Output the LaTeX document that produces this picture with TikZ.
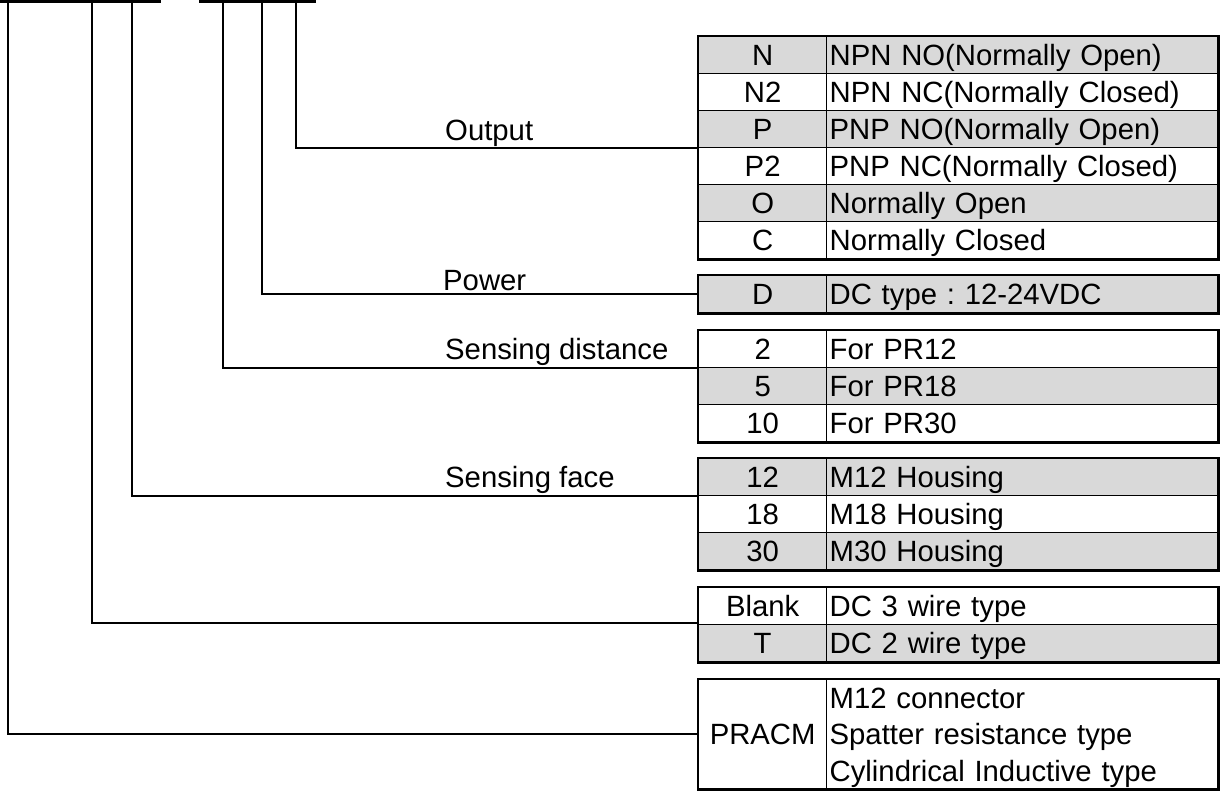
\documentclass[tikz,border=0pt]{standalone}
\usepackage{fontspec}
\setmainfont{Liberation Sans}
\frenchspacing
\definecolor{cellgray}{RGB}{217,217,217}
\tikzset{
  conn/.style={line width=1.8pt, line join=miter},
  topbar/.style={line width=2.7pt},
  frame/.style={line width=2.7pt},
  txt/.style={font=\fontsize{29.3}{36.5}\selectfont},
  codecell/.style={txt, draw=black, line width=1.3pt, minimum width=128pt, minimum height=37pt,
    inner sep=0pt, text height=21pt, text depth=0pt, anchor=north west},
  desccell/.style={txt, draw=black, line width=1.3pt, minimum width=391pt, minimum height=37pt,
    inner xsep=3pt, inner ysep=0pt, text width=385pt, align=left,
    text height=21pt, text depth=0pt, anchor=north west},
  shaded/.style={fill=cellgray},
  plain/.style={fill=white},
  lbl/.style={txt, anchor=base west, inner sep=0pt},
}
\newcommand\tabrow[5]{%
  \node[codecell,#5] (#1c) at (698,#2) {#3};
  \node[desccell,#5] (#1d) at (826,#2) {#4};}
\begin{document}
\begin{tikzpicture}[x=1pt,y=-1pt]
\useasboundingbox (0,0) rectangle (1220,790);

% top bars
\coordinate (b1a) at (0,1.35);
\coordinate (b1b) at (161,1.35);
\coordinate (b2a) at (199,1.35);
\coordinate (b2b) at (316,1.35);
\draw[topbar] (b1a) -- (b1b);
\draw[topbar] (b2a) -- (b2b);

% Output table
\tabrow{oN}{36}{N}{NPN NO(Normally Open)}{shaded}
\tabrow{oNt}{73}{N2}{NPN NC(Normally Closed)}{plain}
\tabrow{oP}{110}{P}{PNP NO(Normally Open)}{shaded}
\tabrow{oPt}{147}{P2}{PNP NC(Normally Closed)}{plain}
\tabrow{oO}{184}{O}{Normally Open}{shaded}
\tabrow{oC}{221}{C}{Normally Closed}{plain}
\draw[frame] (oNc.north west) rectangle (oCd.south east);

% Power table
\tabrow{pD}{275}{D}{DC type : 12-24VDC}{shaded}
\draw[frame] (pDc.north west) rectangle (pDd.south east);

% Sensing distance table
\tabrow{dTwo}{330}{2}{For PR12}{plain}
\tabrow{dFive}{367}{5}{For PR18}{shaded}
\tabrow{dTen}{404}{10}{For PR30}{plain}
\draw[frame] (dTwoc.north west) rectangle (dTend.south east);

% Sensing face table
\tabrow{fA}{458}{12}{M12 Housing}{shaded}
\tabrow{fB}{495}{18}{M18 Housing}{plain}
\tabrow{fC}{532}{30}{M30 Housing}{shaded}
\draw[frame] (fAc.north west) rectangle (fCd.south east);

% wire table
\tabrow{wB}{587}{Blank}{DC 3 wire type}{plain}
\tabrow{wT}{624}{T}{DC 2 wire type}{shaded}
\draw[frame] (wBc.north west) rectangle (wTd.south east);

% PRACM table
\node[codecell, plain, minimum height=109pt] (prc) at (698,679) {PRACM};
\node[desccell, plain, minimum height=109pt, text depth=73pt] (prd) at (826,679)
  {M12 connector\\Spatter resistance type\\Cylindrical Inductive type};
\draw[frame] (prc.north west) rectangle (prd.south east);

% connectors
\coordinate (k1) at (8,0);
\coordinate (k2) at (92,0);
\coordinate (k3) at (132,0);
\coordinate (k4) at (223,0);
\coordinate (k5) at (262,0);
\coordinate (k6) at (296,0);
\draw[conn] (k1) |- (prc.west);
\draw[conn] (k2) |- ([yshift=2pt]wBc.south west);
\draw[conn] (k3) |- (fAc.south west);
\draw[conn] (k4) |- (dTwoc.south west);
\draw[conn] (k5) |- (pDc.west);
\draw[conn] (k6) |- (oPc.south west);

% labels
\node[lbl] (lout) at (445,140) {Output};
\node[lbl] (lpow) at (443,290) {Power};
\node[lbl] (ldist) at (445,359) {Sensing distance};
\node[lbl] (lface) at (445,487) {Sensing face};
\end{tikzpicture}
\end{document}
